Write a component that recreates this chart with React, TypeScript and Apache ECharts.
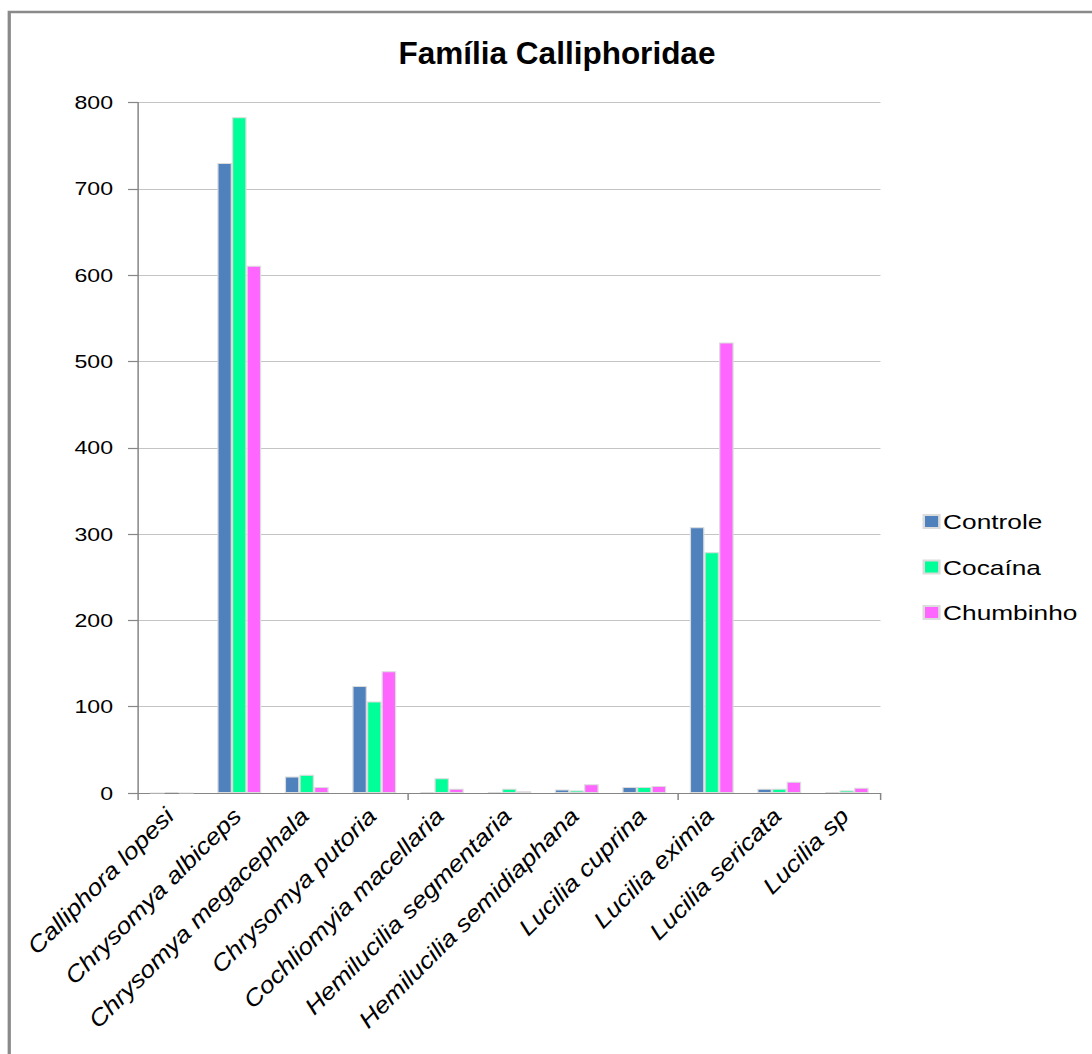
import React, { useEffect, useRef } from "react";
import * as echarts from "echarts";

// Species (x categories)
const categories = [
  "Calliphora lopesi",
  "Chrysomya albiceps",
  "Chrysomya megacephala",
  "Chrysomya putoria",
  "Cochliomyia macellaria",
  "Hemilucilia segmentaria",
  "Hemilucilia semidiaphana",
  "Lucilia cuprina",
  "Lucilia eximia",
  "Lucilia sericata",
  "Lucilia sp",
];

// Counts per treatment
const controle = [0, 730, 19, 124, 1, 1, 4, 7, 308, 5, 1];
const cocaina = [1, 783, 21, 106, 17, 5, 3, 7, 279, 5, 3];
const chumbinho = [0, 611, 7, 141, 5, 2, 10, 8, 522, 13, 6];

const seriesNames = ["Controle", "Cocaína", "Chumbinho"];
const seriesColors = ["#4F81BD", "#00FF99", "#FF66FF"];
const chartTitle = "Família Calliphoridae";

// The chart is laid out in a narrower box and widened horizontally;
// the title and category labels sit in a group that cancels the widening.
const STRETCH = 1.25;
const BOX_W = 1092 / STRETCH;
const BOX_H = 1054;
const FONT = "'Liberation Sans', Arial, sans-serif";

export default function App() {
  const ref = useRef<HTMLDivElement>(null);

  useEffect(() => {
    if (!ref.current) return;
    const chart = echarts.init(ref.current, undefined, { renderer: "svg" });
    const values = [controle, cocaina, chumbinho];

    const frame = {
      type: "rect",
      id: "frame",
      z: -1,
      silent: true,
      shape: { x: 7.4, y: 12, width: 2000, height: 2000 },
      style: { fill: "none", stroke: "#8a8a8a", lineWidth: 2.6 },
    };

    chart.setOption({
      animation: false,
      backgroundColor: "#ffffff",
      textStyle: { fontFamily: FONT, color: "#000" },
      graphic: [frame],
      legend: {
        orient: "vertical",
        left: 733,
        top: 506,
        itemWidth: 12.5,
        itemHeight: 13,
        itemGap: 24.5,
        icon: "rect",
        data: seriesNames,
        textStyle: { fontFamily: FONT, fontSize: 21, color: "#000", padding: [0, 0, 0, -2] },
      },
      grid: {
        left: 110.4,
        right: BOX_W - 704,
        top: 102.5,
        bottom: BOX_H - 793,
        containLabel: false,
      },
      xAxis: {
        type: "category",
        data: categories,
        axisLine: { lineStyle: { color: "#868686", width: 1.2 } },
        axisTick: { show: true, length: 7, lineStyle: { color: "#868686", width: 1.2 } },
        axisLabel: { show: false },
        splitLine: { show: false },
      },
      yAxis: {
        type: "value",
        min: 0,
        max: 800,
        interval: 100,
        axisLine: { show: true, lineStyle: { color: "#868686", width: 1.2 } },
        axisTick: { show: true, inside: false, length: 8, lineStyle: { color: "#868686", width: 1.2 } },
        axisLabel: { margin: 20, fontFamily: FONT, fontSize: 18.5, color: "#000" },
        splitLine: { show: true, lineStyle: { color: "#c4c4c4", width: 1.2 } },
      },
      series: seriesNames.map((name, i) => ({
        name,
        type: "bar",
        data: values[i],
        barGap: "0%",
        barCategoryGap: "35%",
        itemStyle: { color: seriesColors[i], borderColor: "#dcdcdc", borderWidth: 1 },
      })),
    });

    // Category labels placed at the axis positions, rotated 45°, italic,
    // slightly widened along their baseline.
    const labelTexts = categories.map((name) => {
      const [px, py] = chart.convertToPixel({ gridIndex: 0 }, [name, 0]) as number[];
      return {
        type: "text",
        x: px * STRETCH - 2,
        y: py + 19,
        rotation: (45 * Math.PI) / 180,
        scaleX: 1.15,
        scaleY: 1,
        style: {
          text: name,
          align: "right",
          verticalAlign: "middle",
          font: `italic 23px ${FONT}`,
          fill: "#000",
        },
      };
    });

    chart.setOption({
      graphic: [
        frame,
        {
          type: "group",
          id: "unstretched",
          x: 0,
          y: 0,
          scaleX: 1 / STRETCH,
          scaleY: 1,
          children: [
            {
              type: "text",
              x: 557,
              y: 52.5,
              style: {
                text: chartTitle,
                align: "center",
                verticalAlign: "middle",
                font: `bold 31.5px ${FONT}`,
                fill: "#000",
              },
            },
            ...labelTexts,
          ],
        },
      ],
    });

    return () => chart.dispose();
  }, []);

  return (
    <div
      ref={ref}
      style={{
        position: "absolute",
        left: 0,
        top: 0,
        width: BOX_W,
        height: BOX_H,
        transform: `scaleX(${STRETCH})`,
        transformOrigin: "0 0",
      }}
    />
  );
}
